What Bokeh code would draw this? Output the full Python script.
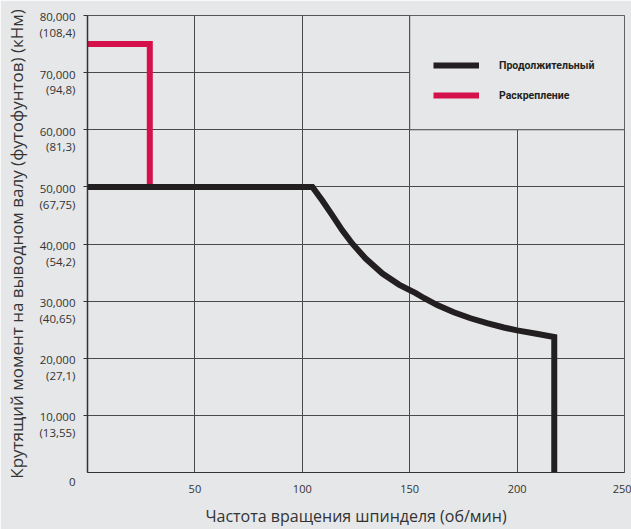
from bokeh.plotting import figure
from bokeh.models import Range1d, FixedTicker, Legend, LegendItem
from bokeh.embed import file_html
from bokeh.resources import INLINE

# ---- data ----
speed_cont = [0, 104.7, 109.3, 114.0, 118.6, 123.3, 129.5, 137.3, 145.0, 152.8, 156.6,
              162.8, 170.5, 178.3, 186.0, 193.8, 200.0, 209.0, 217.3, 217.3]
torque_cont = [50000, 50000, 47600, 45000, 42400, 40050, 37450, 34830, 32900, 31400, 30550,
               29300, 28050, 27000, 26130, 25380, 24870, 24280, 23700, 0]
speed_clamp = [0, 29, 29]
torque_clamp = [75000, 75000, 50000]

x_ticks = [50, 100, 150, 200, 250]
y_ticks = [0, 10000, 20000, 30000, 40000, 50000, 60000, 70000, 80000]
y_labels_ftlb = ["0", "10,000", "20,000", "30,000", "40,000", "50,000", "60,000", "70,000", "80,000"]
y_labels_knm = ["", "(13,55)", "(27,1)", "(40,65)", "(54,2)", "(67,75)", "(81,3)", "(94,8)", "(108,4)"]
legend_labels = ["Продолжительный", "Раскрепление"]
x_title = "Частота вращения шпинделя (об/мин)"
y_title = "Крутящий момент на выводном валу (футофунтов) (кНм)"

# legend panel area (data units) that hides the grid behind the legend
legend_box_x = [150, 250]
legend_box_y = [60000, 80000]

BG = "#e6e7e8"
GRID = "#4a4a4a"
TXT = "#333333"
FONT = "Open Sans"

# vertical placement of the two label lines below each tick (in y-axis units)
LINE1_DROP = 260
LINE2_DROP = 3010

p = figure(width=631, height=529,
           x_range=Range1d(0, 250), y_range=Range1d(0, 80000),
           output_backend="svg", toolbar_location=None,
           min_border_left=87, min_border_right=7,
           min_border_top=15, min_border_bottom=54)

p.background_fill_color = BG
p.border_fill_color = BG
p.outline_line_color = "#555555"
p.outline_line_width = 1

# grid
p.xgrid.ticker = FixedTicker(ticks=x_ticks)
p.ygrid.ticker = FixedTicker(ticks=y_ticks[1:])
for g in (p.xgrid, p.ygrid):
    g.grid_line_color = GRID
    g.grid_line_width = 1

# legend panel covering the grid
p.quad(left=legend_box_x[0], right=legend_box_x[1],
       bottom=legend_box_y[0], top=legend_box_y[1],
       fill_color=BG, line_color=GRID, line_width=1)

# curves
r_clamp = p.line(speed_clamp, torque_clamp, line_color="#d6104b", line_width=6,
                 line_join="miter")
r_cont = p.line(speed_cont, torque_cont, line_color="#231f20", line_width=6,
                line_join="miter")

# x axis
xa = p.xaxis[0]
xa.ticker = FixedTicker(ticks=x_ticks)
xa.major_tick_out = 0
xa.major_tick_in = 0
xa.minor_tick_line_color = None
xa.axis_line_color = TXT
xa.major_label_standoff = 12
xa.major_label_text_font = FONT
xa.major_label_text_font_size = "11px"
xa.major_label_text_color = TXT
xa.axis_label = x_title
xa.axis_label_text_font = FONT
xa.axis_label_text_font_size = "16px"
xa.axis_label_text_font_style = "normal"
xa.axis_label_text_color = TXT
xa.axis_label_standoff = 9

# y axis: the tick marks are drawn as "minor" ticks at the real values, while the
# label lines (ft-lb value, then kNm value) are "major" ticks placed just below them
label_pos = [y_ticks[0]]
label_txt = [" \n" + y_labels_ftlb[0]]
for t, a, b in zip(y_ticks[1:], y_labels_ftlb[1:], y_labels_knm[1:]):
    label_pos += [t - LINE1_DROP, t - LINE2_DROP]
    label_txt += [a, b]

ya = p.yaxis[0]
ya.ticker = FixedTicker(ticks=label_pos, minor_ticks=y_ticks[1:])
ya.major_tick_out = 0
ya.major_tick_in = 0
ya.major_tick_line_color = None
ya.minor_tick_out = 4
ya.minor_tick_in = 0
ya.minor_tick_line_color = TXT
ya.minor_tick_line_width = 1
ya.axis_line_color = TXT
ya.axis_line_width = 1.5
ya.major_label_standoff = 8
ya.major_label_text_font = FONT
ya.major_label_text_font_size = "11.5px"
ya.major_label_text_color = TXT
ya.major_label_overrides = {pos: txt for pos, txt in zip(label_pos, label_txt)}
ya.axis_label = y_title
ya.axis_label_text_font = FONT
ya.axis_label_text_font_size = "17px"
ya.axis_label_text_font_style = "normal"
ya.axis_label_text_color = TXT
ya.axis_label_standoff = 8

legend = Legend(
    items=[LegendItem(label=legend_labels[0], renderers=[r_cont]),
           LegendItem(label=legend_labels[1], renderers=[r_clamp])],
    location=(346, 367), orientation="vertical",
    glyph_width=46, glyph_height=20, label_height=20, spacing=10,
    padding=0, margin=0, label_standoff=20,
    border_line_color=None, background_fill_alpha=0,
    label_text_font="Roboto", label_text_font_style="bold",
    label_text_font_size="10.5px", label_text_color="#231f20",
)
p.add_layout(legend)

open("out.html", "w").write(file_html(p, INLINE))
